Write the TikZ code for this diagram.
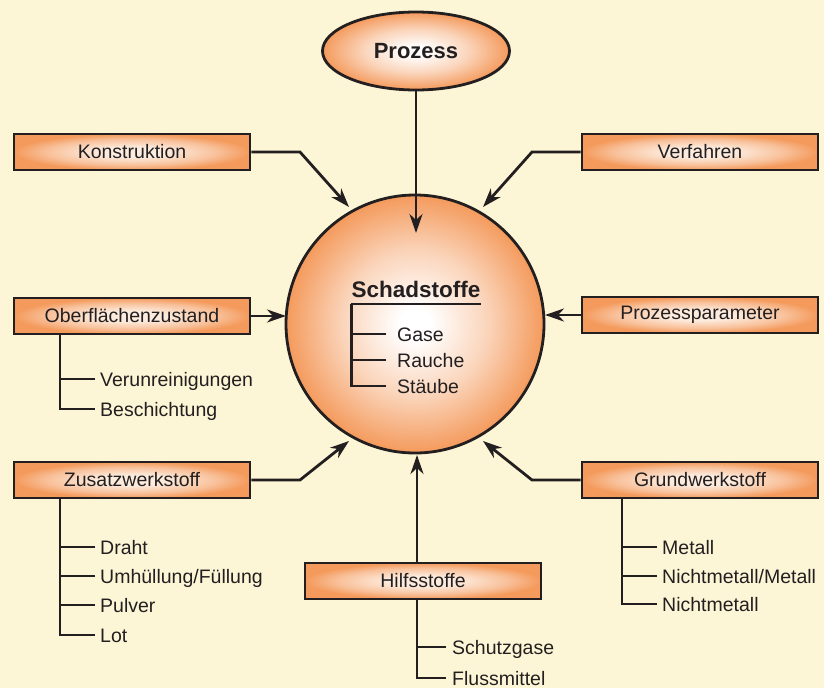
\documentclass[tikz,border=0pt]{standalone}
\usepackage{fontspec}
\setmainfont{Liberation Sans}
\usetikzlibrary{shapes.geometric,arrows.meta,calc}
\definecolor{bg}{RGB}{253,246,214}
\definecolor{org}{RGB}{244,154,92}
\definecolor{orgl}{RGB}{253,236,222}
\definecolor{ink}{RGB}{35,31,32}
\pgfdeclareradialshading{ballglow}{\pgfpoint{0bp}{0bp}}{%
  color(0bp)=(white); color(3bp)=(white); color(14bp)=(org!42!white); color(25bp)=(org); color(50bp)=(org)}
\pgfdeclareradialshading{boxglow}{\pgfpoint{0bp}{0bp}}{%
  color(0bp)=(orgl); color(7bp)=(orgl); color(18bp)=(org!62!white); color(25bp)=(org); color(50bp)=(org)}
\begin{document}
\begin{tikzpicture}[x=1pt,y=-1pt,
  txt/.style={font=\fontsize{19.5}{22}\selectfont, text=ink},
  box/.style={txt, draw=ink, line width=2.8pt, rectangle, minimum width=236pt, minimum height=36pt,
    inner sep=0pt, shading=boxglow},
  sub/.style={txt, anchor=west, inner sep=0pt, text height=14pt, text depth=0pt},
  conn/.style={draw=ink, line width=2.8pt},
  arr/.style={conn, -{Stealth[length=19pt,width=13pt,inset=6pt]}}]
\fill[bg] (0,0) rectangle (824,688);
\useasboundingbox (0,0) rectangle (824,688);

% centre circle
\node[circle, minimum size=258pt, draw=ink, line width=2.8pt, shading=ballglow] (circ) at (415,324) {};
\node[font=\bfseries\fontsize{22.5}{26}\selectfont, text=ink, inner sep=0pt, anchor=base] (sch) at (416,297) {Schadstoffe};
\node[sub] (s1) at (397,334) {Gase};
\node[sub] (s2) at (397,360) {Rauche};
\node[sub] (s3) at (397,386) {Stäube};
\coordinate (sx) at (350,0);
\draw[conn] ([yshift=-7pt]sch.base west) -- ([yshift=-7pt]sch.base east);
\draw[conn] ([yshift=-7pt]sch.base west) |- ([xshift=-11pt]s3.west);
\draw[conn] ([xshift=-11pt]s1.west) -- (sx |- s1.west);
\draw[conn] ([xshift=-11pt]s2.west) -- (sx |- s2.west);

% Prozess
\node[ellipse, draw=ink, line width=2.8pt, minimum width=187pt, minimum height=78pt,
  shading=ballglow, text=ink, font=\bfseries\fontsize{22}{26}\selectfont] (proz) at (416,51) {Prozess};

% boxes
\node[box] (kon) at (132,152) {Konstruktion};
\node[box] (ver) at (700,152) {Verfahren};
\node[box] (obe) at (132,316) {Oberflächenzustand};
\node[box] (par) at (700,315) {Prozessparameter};
\node[box] (zus) at (132,480) {Zusatzwerkstoff};
\node[box] (gru) at (700,480) {Grundwerkstoff};
\node[box] (hil) at (423,581) {Hilfsstoffe};

% arrows to circle
\coordinate (k1) at (300,152); \coordinate (kt) at (349,207);
\coordinate (v1) at (532,152); \coordinate (vt) at (483,207);
\coordinate (pt) at (416,233);
\coordinate (ot) at (286,316);
\coordinate (pp) at (545,315);
\coordinate (z1) at (300,480); \coordinate (zt) at (349,441);
\coordinate (g1) at (532,480); \coordinate (gt) at (483,441);
\coordinate (ht) at (417,455);
\draw[arr] (kon.east) -- (k1) -- (kt);
\draw[arr] (ver.west) -- (v1) -- (vt);
\draw[arr] (proz.south) -- (pt);
\draw[arr] (obe.east) -- (ot);
\draw[arr] (par.west) -- (pp);
\draw[arr] (zus.east) -- (z1) -- (zt);
\draw[arr] (gru.west) -- (g1) -- (gt);
\draw[arr] (hil.north -| ht) -- (ht);

% Oberflaechenzustand tree
\coordinate (ox) at (60,0);
\node[sub] (o1) at (100,379) {Verunreinigungen};
\node[sub] (o2) at (100,409) {Beschichtung};
\draw[conn] (ox |- obe.south) |- ([xshift=-5pt]o2.west);
\draw[conn] ([xshift=-5pt]o1.west) -- (ox |- o1.west);

% Zusatzwerkstoff tree
\node[sub] (z1t) at (100,547) {Draht};
\node[sub] (z2t) at (100,576) {Umhüllung/Füllung};
\node[sub] (z3t) at (100,605) {Pulver};
\node[sub] (z4t) at (100,635) {Lot};
\draw[conn] (ox |- zus.south) |- ([xshift=-5pt]z4t.west);
\draw[conn] ([xshift=-5pt]z1t.west) -- (ox |- z1t.west);
\draw[conn] ([xshift=-5pt]z2t.west) -- (ox |- z2t.west);
\draw[conn] ([xshift=-5pt]z3t.west) -- (ox |- z3t.west);

% Grundwerkstoff tree
\coordinate (gx) at (622,0);
\node[sub] (g1t) at (662,547) {Metall};
\node[sub] (g2t) at (662,576) {Nichtmetall/Metall};
\node[sub] (g3t) at (662,604) {Nichtmetall};
\draw[conn] (gx |- gru.south) |- ([xshift=-5pt]g3t.west);
\draw[conn] ([xshift=-5pt]g1t.west) -- (gx |- g1t.west);
\draw[conn] ([xshift=-5pt]g2t.west) -- (gx |- g2t.west);

% Hilfsstoffe tree
\node[sub] (h1t) at (452,647) {Schutzgase};
\node[sub] (h2t) at (452,678) {Flussmittel};
\draw[conn] (ht |- hil.south) |- ([xshift=-6pt]h2t.west);
\draw[conn] ([xshift=-6pt]h1t.west) -- (ht |- h1t.west);
\end{tikzpicture}
\end{document}
